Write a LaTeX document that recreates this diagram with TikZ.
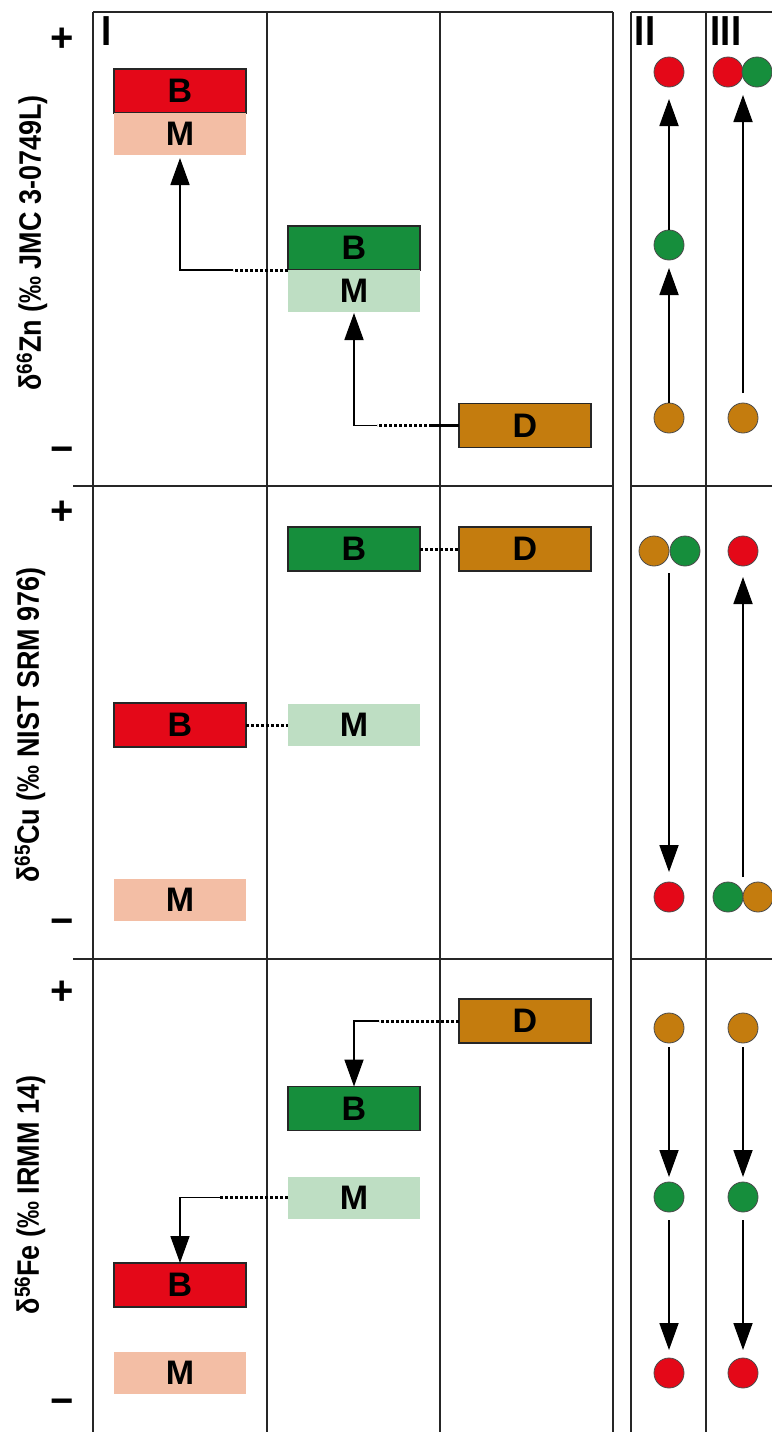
\documentclass[tikz,border=0pt]{standalone}
\usepackage{fontspec}
\setmainfont{Liberation Sans}
\newfontfamily\narrowfont{Liberation Sans}[FakeStretch=0.87]
\usetikzlibrary{positioning,arrows.meta}
\definecolor{bred}{RGB}{228,8,24}
\definecolor{mred}{RGB}{243,190,165}
\definecolor{bgreen}{RGB}{22,142,60}
\definecolor{mgreen}{RGB}{190,222,195}
\definecolor{dbrown}{RGB}{196,124,14}
\begin{document}
\begin{tikzpicture}[
  x=1pt, y=-1pt,
  gridline/.style={line width=1.2pt, draw=black!85},
  bbox/.style={draw=black!85, line width=1.5pt, minimum width=132pt, minimum height=44pt, inner sep=0pt, outer sep=0pt, font=\fontsize{34}{34}\selectfont\bfseries},
  mbox/.style={bbox, draw=none, minimum height=42pt},
  ball/.style={circle, draw=black!70, line width=0.8pt, minimum size=30pt, inner sep=0pt, outer sep=0pt},
  sign/.style={font=\fontsize{40}{40}\selectfont\bfseries, inner sep=0pt},
  numeral/.style={font=\fontsize{42}{42}\selectfont\narrowfont\bfseries, inner sep=0pt},
  axis/.style={rotate=90, font=\fontsize{31}{31}\selectfont\narrowfont\bfseries, inner sep=0pt},
  arrow/.style={line width=1.8pt, -{Triangle[length=27pt,width=19pt]}},
  link/.style={line width=3pt, dash pattern=on 3pt off 2pt}
]
\useasboundingbox (0,0) rectangle (771,1432);
\foreach \x in {93,267,440,613,631,706}
  \draw[gridline] (\x,12) -- (\x,1440);
\draw[gridline] (93,12) -- (613,12);
\draw[gridline] (631,12) -- (780,12);
\foreach \y in {486,959} {
  \draw[gridline] (73,\y) -- (613,\y);
  \draw[gridline] (631,\y) -- (780,\y);
}

\node[numeral] (n1) at (107,31) {I};
\node[numeral] (n2) at (645,31) {II};
\node[numeral] (n3) at (726,31) {III};

\node[axis] (zlab) at (32,243) {δ\textsuperscript{66}Zn (‰ JMC 3-0749L)};
\node[axis] (clab) at (30,725) {δ\textsuperscript{65}Cu (‰ NIST SRM 976)};
\node[axis] (flab) at (30,1195) {δ\textsuperscript{56}Fe (‰ IRMM 14)};
\node[sign] (zp) at (62,40) {+};
\node[sign] (zm) at (62,455) {−};
\node[sign] (cp) at (62,513) {+};
\node[sign] (cm) at (62,927) {−};
\node[sign] (fp) at (62,993) {+};
\node[sign] (fm) at (62,1407) {−};

\node[bbox, fill=bred] (zB) at (180,91) {B};
\node[mbox, fill=mred, below=0pt of zB] (zM) {M};
\node[bbox, fill=bgreen] (zgB) at (354,248) {B};
\node[mbox, fill=mgreen, below=0pt of zgB] (zgM) {M};
\node[bbox, fill=dbrown] (zD) at (525,425.5) {D};
\draw[link] (zgB.south west) -- ++(-55,0) coordinate (za);
\draw[arrow, shorten >=3pt] (za) -| (zM.south);
\draw[line width=2.4pt] (zD.west) -- ++(-27,0) coordinate (zb);
\draw[link] (zb) -- ++(-55,0) coordinate (zc);
\draw[arrow, shorten >=1pt] (zc) -| (zgM.south);

\node[bbox, fill=bgreen] (cgB) at (354,549) {B};
\node[bbox, fill=dbrown] (cD) at (525,549) {D};
\node[bbox, fill=bred] (crB) at (180,725) {B};
\node[mbox, fill=mgreen] (cgM) at (354,725) {M};
\node[mbox, fill=mred] (crM) at (180,900) {M};
\draw[link] (cgB) -- (cD);
\draw[link] (crB) -- (cgM);

\node[bbox, fill=dbrown] (fD) at (525,1021) {D};
\node[bbox, fill=bgreen] (fgB) at (354,1108.5) {B};
\node[mbox, fill=mgreen] (fgM) at (354,1197.5) {M};
\node[bbox, fill=bred] (frB) at (180,1285) {B};
\node[mbox, fill=mred] (frM) at (180,1373) {M};
\draw[link] (fD.west) -- ++(-80,0) coordinate (fa);
\draw[arrow] (fa) -| (fgB.north);
\draw[link] (fgM.west) -- ++(-68,0) coordinate (fb);
\draw[arrow] (fb) -| (frB.north);

\node[ball, fill=bred] (zr2) at (669,72) {};
\node[ball, fill=bgreen] (zg2) at (669,245) {};
\node[ball, fill=dbrown] (zd2) at (669,418) {};
\node[ball, fill=bred] (zr3) at (728,72) {};
\node[ball, fill=bgreen] (zg3) at (757,72) {};
\node[ball, fill=dbrown] (zd3) at (743,418) {};
\draw[arrow, shorten >=8pt] (zd2) -- (zg2);
\draw[arrow, shorten >=12pt] (zg2) -- (zr2);
\draw[arrow, shorten <=10pt, shorten >=8pt] (zd3) -- (zd3 |- zr3.south);

\node[ball, fill=dbrown] (cd2) at (654,551) {};
\node[ball, fill=bgreen] (cg2) at (685,551) {};
\node[ball, fill=bred] (cr2) at (669,897) {};
\node[ball, fill=bred] (cr3) at (743,551) {};
\node[ball, fill=bgreen] (cg3) at (728,897) {};
\node[ball, fill=dbrown] (cd3) at (758,897) {};
\draw[arrow, shorten <=7pt, shorten >=10pt] (cr2 |- cd2.south) -- (cr2);
\draw[arrow, shorten <=5pt, shorten >=11pt] (cr3 |- cg3.north) -- (cr3);

\node[ball, fill=dbrown] (fd2) at (669,1028) {};
\node[ball, fill=bgreen] (fg2) at (669,1197) {};
\node[ball, fill=bred] (fr2) at (669,1373) {};
\node[ball, fill=dbrown] (fd3) at (743,1028) {};
\node[ball, fill=bgreen] (fg3) at (743,1197) {};
\node[ball, fill=bred] (fr3) at (743,1373) {};
\draw[arrow, shorten <=4pt, shorten >=5pt] (fd2) -- (fg2);
\draw[arrow, shorten <=8pt, shorten >=8pt] (fg2) -- (fr2);
\draw[arrow, shorten <=4pt, shorten >=5pt] (fd3) -- (fg3);
\draw[arrow, shorten <=8pt, shorten >=8pt] (fg3) -- (fr3);
\end{tikzpicture}
\end{document}
